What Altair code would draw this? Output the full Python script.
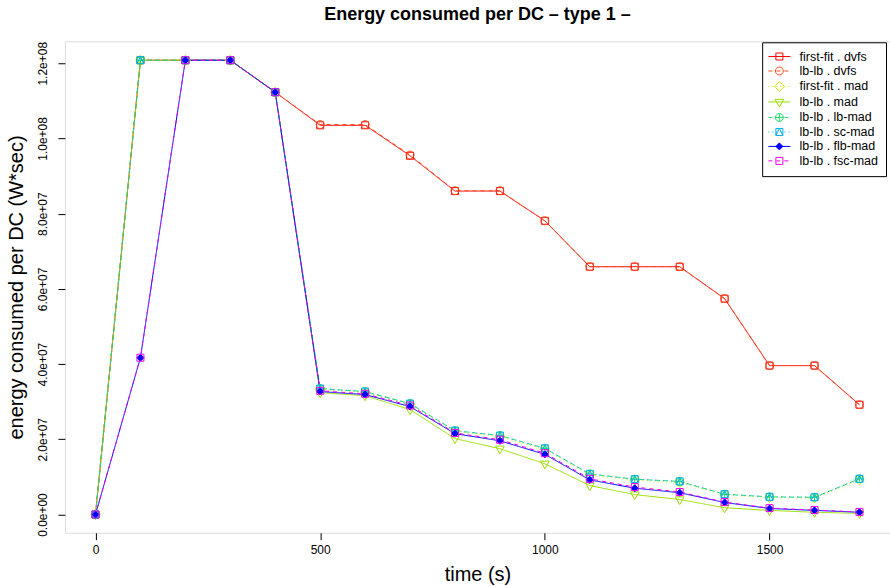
import altair as alt
import pandas as pd

# ---------------- data ----------------
time_s = [0, 100, 200, 300, 400, 500, 600, 700, 800, 900, 1000, 1100, 1200, 1300, 1400, 1500, 1600, 1700]

series_names = [
    "first-fit . dvfs", "lb-lb . dvfs", "first-fit . mad", "lb-lb . mad",
    "lb-lb . lb-mad", "lb-lb . sc-mad", "lb-lb . flb-mad", "lb-lb . fsc-mad",
]

ff_dvfs = [0, 1.208e8, 1.208e8, 1.208e8, 1.123e8, 1.035e8, 1.035e8, 9.54e7, 8.60e7, 8.60e7,
           7.81e7, 6.59e7, 6.59e7, 6.59e7, 5.74e7, 3.96e7, 3.96e7, 2.92e7]
lb_dvfs = [0, 1.208e8, 1.208e8, 1.208e8, 1.123e8, 1.037e8, 1.037e8, 9.56e7, 8.61e7, 8.61e7,
           7.81e7, 6.59e7, 6.59e7, 6.59e7, 5.74e7, 3.96e7, 3.96e7, 2.92e7]
ff_mad = [0, 1.208e8, 1.208e8, 1.208e8, 1.123e8, 3.33e7, 3.25e7, 2.93e7, 2.21e7, 2.07e7,
          1.73e7, 1.05e7, 0.91e7, 0.85e7, 0.52e7, 0.45e7, 0.44e7, 0.92e7]
lb_mad = [0, 1.208e8, 1.208e8, 1.208e8, 1.123e8, 3.24e7, 3.16e7, 2.79e7, 2.02e7, 1.75e7,
          1.35e7, 0.77e7, 0.53e7, 0.40e7, 0.18e7, 0.11e7, 0.06e7, 0.03e7]
lb_lbmad = [0, 1.208e8, 1.208e8, 1.208e8, 1.123e8, 3.35e7, 3.27e7, 2.95e7, 2.23e7, 2.10e7,
            1.76e7, 1.08e7, 0.94e7, 0.88e7, 0.54e7, 0.47e7, 0.46e7, 0.95e7]
lb_scmad = [0, 1.208e8, 1.208e8, 1.208e8, 1.123e8, 3.35e7, 3.27e7, 2.95e7, 2.23e7, 2.10e7,
            1.76e7, 1.08e7, 0.94e7, 0.88e7, 0.54e7, 0.47e7, 0.46e7, 0.95e7]
lb_flbmad = [0, 4.17e7, 1.208e8, 1.208e8, 1.123e8, 3.27e7, 3.19e7, 2.87e7, 2.15e7, 1.96e7,
             1.60e7, 0.92e7, 0.70e7, 0.58e7, 0.32e7, 0.16e7, 0.11e7, 0.06e7]
lb_fscmad = [0, 4.17e7, 1.208e8, 1.208e8, 1.123e8, 3.29e7, 3.21e7, 2.90e7, 2.17e7, 1.99e7,
             1.63e7, 0.95e7, 0.73e7, 0.60e7, 0.33e7, 0.17e7, 0.12e7, 0.07e7]

series_values = [ff_dvfs, lb_dvfs, ff_mad, lb_mad, lb_lbmad, lb_scmad, lb_flbmad, lb_fscmad]

x_ticks = [0, 500, 1000, 1500]
y_ticks = [0, 2e7, 4e7, 6e7, 8e7, 1e8, 1.2e8]
y_tick_labels = ["0.0e+00", "2.0e+07", "4.0e+07", "6.0e+07", "8.0e+07", "1.0e+08", "1.2e+08"]

# ---------------- styles ----------------
series_colors = ["#FF0000", "#FF4A1A", "#C8EE00", "#9ADF00", "#1EDC6A", "#00AEEE", "#0000FF", "#EE00EE"]
dash_px = [None, (4, 4), (1, 3), None, (4, 4), (1, 3), None, (4, 4)]
R = 3.5  # marker unit radius in px
SQ = "M-1,-1L1,-1L1,1L-1,1Z"
CI = "M-1.13,0A1.13,1.13,0,1,1,1.13,0A1.13,1.13,0,1,1,-1.13,0Z"
markers = [
    SQ,
    CI,
    "M0,-1.4L1.4,0L0,1.4L-1.4,0Z",
    "M-1.25,-0.75L1.25,-0.75L0,1.45Z",
    CI + "M-1.13,0L1.13,0M0,-1.13L0,1.13",
    SQ + "M-1,1L0,-1L1,1",
    "M0,-1L1,0L0,1L-1,0Z",
    SQ,
]
fills = ["transparent"] * 6 + ["#0000FF", "transparent"]

marker_keys = [f"m{i}" for i in range(len(series_names))]
dash_keys = [f"d{i}" for i in range(len(series_names))]

rows = []
for name, mk, dk, vals in zip(series_names, marker_keys, dash_keys, series_values):
    for t, v in zip(time_s, vals):
        rows.append({"time": t, "energy": v, "series": name, "marker": mk, "dash": dk})
df = pd.DataFrame(rows)

HALF = 11.0 / R


def legend_path(marker, dash):
    segs = []
    if dash is None:
        segs.append(f"M{-HALF:.3f},0L{HALF:.3f},0")
    else:
        on, off = dash[0] / R, dash[1] / R
        x = -HALF
        while x < HALF:
            x2 = min(x + on, HALF)
            segs.append(f"M{x:.3f},0L{x2:.3f},0")
            x = x2 + off
    return "".join(segs) + marker


def switch_expr(values):
    parts = []
    for name, val in zip(series_names[:-1], values[:-1]):
        parts.append(f"datum.value === '{name}' ? '{val}'")
    return " : ".join(parts) + f" : '{values[-1]}'"


legend_shapes = [legend_path(m, d) for m, d in zip(markers, dash_px)]
dash_ranges = [[1, 0] if d is None else list(d) for d in dash_px]

y_label_expr = " : ".join(
    f"datum.value == {v:.0f} ? '{l}'" for v, l in zip(y_ticks, y_tick_labels)
) + " : ''"

FONT = "Liberation Sans"

x_enc = alt.X(
    "time:Q",
    scale=alt.Scale(domain=[-68, 1768], nice=False, zero=False),
    axis=alt.Axis(values=x_ticks, format="d", title="time (s)", grid=False, domain=False,
                  tickSize=7, tickColor="black", labelColor="black", labelFontSize=12,
                  labelPadding=5, titleFontSize=20, titleFontWeight="normal",
                  titleColor="black", titlePadding=9, labelFont=FONT, titleFont=FONT),
)
y_enc = alt.Y(
    "energy:Q",
    scale=alt.Scale(domain=[-4.84e6, 1.2584e8], nice=False, zero=False),
    axis=alt.Axis(values=y_ticks, labelExpr=y_label_expr, title="energy consumed per DC (W*sec)",
                  grid=False, domain=False, tickSize=7, tickColor="black", labelColor="black",
                  labelFontSize=12, labelAngle=270, labelAlign="center", labelBaseline="bottom",
                  labelPadding=8, titleFontSize=20, titleFontWeight="normal", titleColor="black",
                  titlePadding=10, labelFont=FONT, titleFont=FONT),
)

stroke_scale = alt.Scale(domain=series_names, range=series_colors)
fill_scale = alt.Scale(domain=series_names, range=fills)

legend = alt.Legend(
    title=None,
    orient="none",
    legendX=698,
    legendY=1,
    padding=8,
    strokeColor="black",
    fillColor="white",
    labelFontSize=12.5,
    labelFont=FONT,
    labelColor="black",
    symbolSize=49,
    symbolStrokeWidth=1,
    symbolOffset=3,
    labelOffset=14,
    rowPadding=1.5,
    symbolType={"expr": switch_expr(legend_shapes)},
)

lines = alt.Chart(df).mark_line(strokeWidth=1).encode(
    x=x_enc,
    y=y_enc,
    stroke=alt.Stroke("series:N", scale=stroke_scale, legend=legend, sort=series_names),
    strokeDash=alt.StrokeDash("dash:N", scale=alt.Scale(domain=dash_keys, range=dash_ranges),
                              legend=None),
)

points = alt.Chart(df).mark_point(size=49, strokeWidth=1, opacity=1, filled=False).encode(
    x=x_enc,
    y=y_enc,
    stroke=alt.Stroke("series:N", scale=stroke_scale, legend=legend, sort=series_names),
    shape=alt.Shape("marker:N", scale=alt.Scale(domain=marker_keys, range=markers), legend=None),
    fill=alt.Fill("series:N", scale=fill_scale, legend=legend, sort=series_names),
)

chart = alt.layer(lines, points).properties(
    width=826,
    height=492,
    autosize=alt.AutoSizeParams(type="none"),
    padding={"left": 65, "top": 41, "right": 0, "bottom": 54},
    title=alt.TitleParams(
        "Energy consumed per DC \u2013 type 1 \u2013",
        fontSize=18, fontWeight="bold", font=FONT, color="black",
        anchor="middle", offset=17,
    ),
).configure_view(
    stroke="black", strokeWidth=1
).configure(background="white")

chart.save("out.html", embed_options={"renderer": "svg", "actions": False})
